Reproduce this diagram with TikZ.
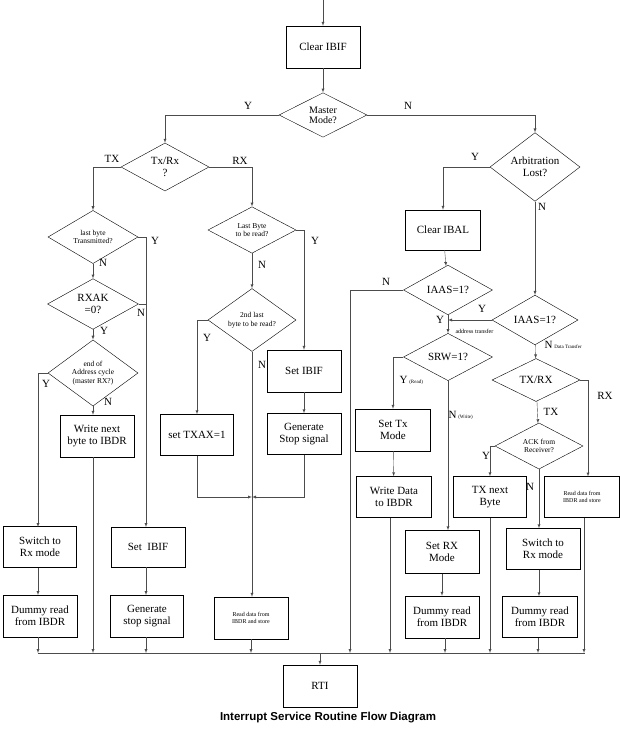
\documentclass[tikz,border=0pt]{standalone}
\usepackage{fontspec}
\setmainfont{Liberation Serif}
\setsansfont{Liberation Sans}
\usetikzlibrary{shapes.geometric}
\usetikzlibrary{positioning}

\begin{document}
\begin{tikzpicture}
		[x=1pt,y=-1pt,
		font=\rmfamily\fontsize{11}{12}\selectfont,
		>=latex
		]
		
		% Node styles: boxes and decisions
		\tikzstyle{box}=[rectangle,draw,align=center,inner sep=1pt];
		\tikzstyle{decision}=[diamond,draw,align=center,inner sep=0pt];
		\tikzstyle{flow}=[draw=black!70,->];
		\tikzstyle{small}=[font=\rmfamily\fontsize{7.5}{8.5}\selectfont];
		\tikzstyle{tiny}=[font=\rmfamily\fontsize{6}{7}\selectfont];
		\useasboundingbox (0,0) rectangle (620,730);
		
		% Top
		\coordinate (in) at (323,0);
		\node(ibif)[box,minimum width=74,minimum height=42] at (323,47){Clear IBIF};
		\node(mm)[decision,font=\rmfamily\fontsize{10}{10}\selectfont,minimum width=88,minimum height=44] at (323,115){Master\\Mode?};
		\draw[flow](in)--(ibif);
		\draw[flow](ibif)--(mm);
		
		% Master: transmit / receive
		\node(txrx)[decision,minimum width=88,minimum height=48] at (165,167){Tx/Rx\\?};
		\node(lbt)[decision,small,minimum width=90,minimum height=44] at (93,237){last byte\\Transmitted?};
		\node(rxak)[decision,minimum width=91,minimum height=42] at (93,304){RXAK\\=0?};
		\node(eoa)[decision,small,minimum width=90,minimum height=48] at (93,373){end of\\Address cycle\\(master RX?)};
		\node(wnb)[box,minimum width=74,minimum height=42] at (97,436){Write next\\byte to IBDR};
		\node(srx1)[box,minimum width=73,minimum height=41] at (40,547){Switch to\\Rx mode};
		\node(dr1)[box,minimum width=74,minimum height=42] at (40,616){Dummy read\\from IBDR};
		\node(sib1)[box,minimum width=74,minimum height=40] at (148,547){Set~ IBIF};
		\node(gss1)[box,minimum width=73,minimum height=42] at (147,616){Generate\\stop signal};
		
		\node(lbr)[decision,small,minimum width=88,minimum height=44] at (252,230){Last Byte\\to be read?};
		\node(slb)[decision,small,minimum width=88,minimum height=44] at (252,320){2nd last\\byte to be read?};
		\node(txax)[box,minimum width=73,minimum height=41] at (197,435){set TXAX=1};
		\node(sib2)[box,minimum width=74,minimum height=42] at (304,371){Set IBIF};
		\node(gss2)[box,minimum width=74,minimum height=41] at (304,434){Generate\\Stop signal};
		\node(rd1)[box,tiny,minimum width=74,minimum height=42] at (251,618){Read data from\\IBDR and store};
		\coordinate (mrg) at (252,497);
		
		% Slave side
		\node(arb)[decision,minimum width=90,minimum height=47] at (535,167){Arbitration\\Lost?};
		\node(ibal)[box,minimum width=75,minimum height=40] at (443,230){Clear IBAL};
		\node(ia1)[decision,minimum width=89,minimum height=44] at (448,290){IAAS=1?};
		\node(ia2)[decision,minimum width=86,minimum height=48] at (535,320){IAAS=1?};
		\node(srw)[decision,minimum width=89,minimum height=41] at (448,357){SRW=1?};
		\node(stx)[box,minimum width=75,minimum height=42] at (393,430){Set Tx\\Mode};
		\node(wdi)[box,minimum width=75,minimum height=41] at (394,497){Write Data\\to IBDR};
		\node(srx)[box,minimum width=74,minimum height=43] at (442,552){Set RX\\Mode};
		\node(dr2)[box,minimum width=74,minimum height=42] at (442,617){Dummy read\\from IBDR};
		\node(txrx2)[decision,minimum width=88,minimum height=43] at (536,380){TX/RX};
		\node(ack)[decision,small,minimum width=88,minimum height=44] at (539,446){ACK from\\Receiver?};
		\node(txn)[box,minimum width=73,minimum height=41] at (490,497){TX next\\Byte};
		\node(rd2)[box,tiny,minimum width=75,minimum height=41] at (582,497){Read data from\\IBDR and store};
		\node(srx2)[box,minimum width=74,minimum height=41] at (543,549){Switch to\\Rx mode};
		\node(dr3)[box,minimum width=75,minimum height=41] at (540,617){Dummy read\\from IBDR};
		
		% Bus and RTI
		\node(rti)[box,minimum width=74,minimum height=42] at (320,686){RTI};
		\node(title)[font=\sffamily\bfseries\fontsize{11.5}{13}\selectfont] at (328,718){Interrupt Service Routine Flow Diagram};
		\draw[draw=black!70](38,653)--(585,653);
		\draw[flow](320,653)--(rti);
		
		% Connections, master
		\draw[flow](mm.west)-|(txrx.north);
		\draw[flow](mm.east)-|(arb.north);
		\draw[flow](txrx.west)-|(lbt.north);
		\draw[flow](txrx.east)-|(lbr.north);
		\draw[flow](lbt.east)-|(146,527);
		\draw[flow](lbt)--(rxak);
		\draw[draw=black!70](rxak.east)--(146,304);
		\draw[flow](rxak)--(eoa);
		\draw[flow](eoa.west)-|(38,527);
		\draw[flow](eoa)--(eoa.south|-wnb.north);
		\draw[flow](38,568)--(38,595);
		\draw[flow](sib1.south-|146,0)--(146,595);
		\draw[flow](lbr.east)-|(sib2.north);
		\draw[flow](lbr)--(slb);
		\draw[flow](slb.west)-|(txax.north);
		\draw[flow](slb.south)--(slb.south|-rd1.north);
		\draw[flow](sib2)--(gss2);
		\draw[flow](txax.south)|-(mrg);
		\draw[flow](gss2.south)|-(mrg);
		
		% Connections, slave
		\draw[flow](arb.west)-|(ibal.north);
		\draw[flow](arb)--(ia2);
		\draw[flow](ibal)--(ia1);
		\draw[flow](ia1.west)-|(350,653);
		\draw[flow](ia1)--(srw);
		\draw[flow](ia2.west)--(448,320);
		\draw[flow](srw.west)-|(stx.north);
		\draw[flow](srw.south)--(srw.south|-srx.north);
		\draw[flow](stx)--(wdi);
		\draw[flow](srx)--(dr2);
		\draw[flow](ia2)--(txrx2);
		\draw[flow](txrx2)--(ack);
		\draw[flow](txrx2.east)-|(588,476.5);
		\draw[flow](ack.west)-|(txn.north);
		\draw[flow](ack.south)--(ack.south|-srx2.north);
		\draw[flow](srx2.south-|ack.south)--(ack.south|-dr3.north);
		
		% Into the bus
		\foreach \n/\x in {dr1/38,wnb/93,gss1/146,rd1/251,wdi/390,dr2/445,txn/490,dr3/538,rd2/584}
			\draw[flow](\n.south-|\x,0)--(\x,653);
		
		% Labels
		\node at (248,106){Y};
		\node at (408,106){N};
		\node at (112,159){TX};
		\node at (240,161){RX};
		\node at (155,241){Y};
		\node at (103,263){N};
		\node at (141,313){N};
		\node at (104,331){Y};
		\node at (46,384){Y};
		\node at (108,402){N};
		\node at (315,241){Y};
		\node at (262,265){N};
		\node at (207,338){Y};
		\node at (262,365){N};
		\node at (475,157){Y};
		\node at (542,207){N};
		\node at (386,282){N};
		\node at (440,320){Y};
		\node at (482,309){Y};
		\node[tiny,anchor=west] at (452,331){address transfer};
		\node[anchor=west] at (541,345){N\,{\tiny Data Transfer}};
		\node[anchor=west] at (396,380){Y\,{\tiny(Read)}};
		\node[anchor=west] at (445,415){N\,{\tiny(Write)}};
		\node at (605,396){RX};
		\node at (551,412){TX};
		\node at (486,456){Y};
		\node at (530,487){N};
		\end{tikzpicture}
\end{document}
